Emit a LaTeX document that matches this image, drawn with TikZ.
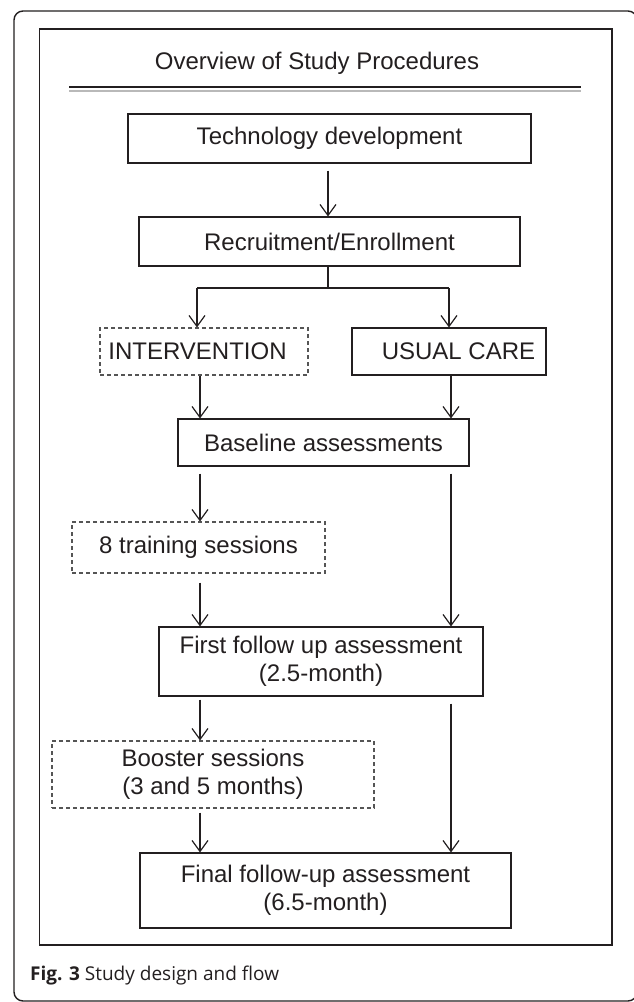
\documentclass[tikz,border=0pt]{standalone}
\usepackage{fontspec}
\setmainfont{Liberation Sans}
\newfontfamily\capfont{Open Sans}
\usetikzlibrary{arrows.meta}
\definecolor{ink}{HTML}{231F20}
\definecolor{dashgray}{HTML}{555555}
\tikzset{
  box/.style={draw=ink, line width=1.1pt, inner sep=0pt, align=center, text=ink,
    font=\fontsize{24}{28}\selectfont},
  dbox/.style={box, draw=dashgray, dash pattern=on 4pt off 3pt},
  arr/.style={draw=ink, line width=1.2pt, -{Straight Barb[length=11pt,width=16pt,line width=1.2pt]}},
  ln/.style={draw=ink, line width=1.2pt},
}
\begin{document}
\begin{tikzpicture}[x=1pt,y=-1pt]
\useasboundingbox (0,0) rectangle (633,1002);
\fill[white] (0,0) rectangle (633,1002);
% frames
\draw[ink, line width=1.4pt, rounded corners=9pt] (14,11) rectangle (637,1001);
\draw[ink, line width=1.7pt] (39.5,29) rectangle (612,945);
\node[text=ink, font=\fontsize{24}{28}\selectfont] (title) at (317,63) {Overview of Study Procedures};
\draw[ink, line width=1.6pt] (69,87) -- (581,87);
\draw[gray!55, line width=2pt] (69,90.7) -- (581,90.7);
% boxes
\node[box, minimum width=403pt, minimum height=49pt] (tech) at (329.5,138.5) {Technology development};
\node[box, minimum width=381pt, minimum height=49pt] (rec) at (329.5,241.5) {Recruitment/Enrollment};
\node[dbox, minimum width=208pt, minimum height=47pt] (int) at (204,351.5) {\hspace*{-13pt}INTERVENTION};
\node[box, minimum width=194pt, minimum height=47pt] (usual) at (449,351.5) {\hspace*{19pt}USUAL CARE};
\node[box, minimum width=291pt, minimum height=47pt] (base) at (323.5,442.5) {Baseline assessments};
\node[dbox, minimum width=253pt, minimum height=51pt] (train) at (198.5,547.5) {8 training sessions};
\node[box, minimum width=324pt, minimum height=69pt] (first) at (321,661.5) {First follow up assessment\\(2.5-month)};
\node[dbox, minimum width=322pt, minimum height=67pt] (boost) at (213,774.5) {Booster sessions\\(3 and 5 months)};
\node[box, minimum width=371pt, minimum height=75pt] (final) at (325.5,890.5) {Final follow-up assessment\\(6.5-month)};
% caption
\node[anchor=west, inner sep=0pt, text=ink, font=\capfont\fontsize{19}{21}\selectfont] (cap) at (30,976) {\textbf{Fig. 3} Study design and flow};
% columns
\coordinate (L) at (200,0);
\coordinate (R) at (451,0);
\coordinate (split) at (328,288);
\coordinate (cl) at (197,288);
\coordinate (cr) at (449,288);
% connectors
\draw[arr, shorten <=7pt] (tech.south -| split) -- (rec.north -| split);
\draw[ln] (rec.south -| split) -- (split);
\draw[ln] (cl) -- (cr);
\draw[arr] (cl) -- (cl |- int.north);
\draw[arr] (cr) -- (cr |- usual.north);
\draw[arr] (int.south -| L) -- (base.north -| L);
\draw[arr] (usual.south -| R) -- (base.north -| R);
\draw[arr, shorten <=7pt] (base.south -| L) -- (train.north -| L);
\draw[arr, shorten <=7pt] (base.south -| R) -- (first.north -| R);
\draw[arr, shorten <=9pt] (train.south -| L) -- (first.north -| L);
\draw[arr, shorten <=3pt] (first.south -| L) -- (boost.north -| L);
\draw[arr, shorten <=7pt] (first.south -| R) -- (final.north -| R);
\draw[arr, shorten <=4pt] (boost.south -| L) -- (final.north -| L);
\end{tikzpicture}
\end{document}
